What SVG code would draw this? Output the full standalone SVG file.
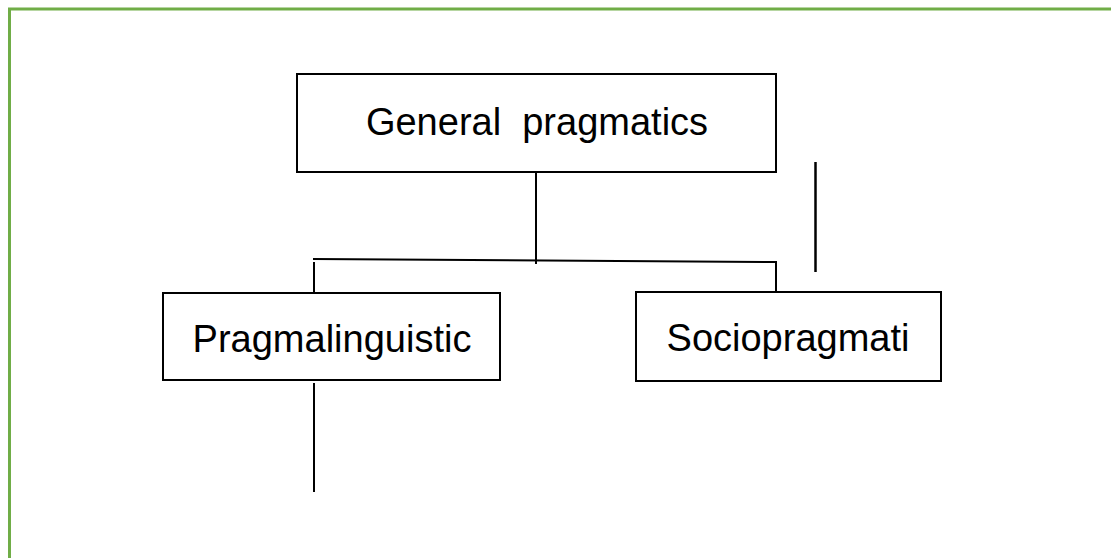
<svg xmlns="http://www.w3.org/2000/svg" width="1111" height="558" viewBox="0 0 1111 558">
<style>
.box{fill:#fff;stroke:#000;stroke-width:2}
.lbl{font-family:"Liberation Sans",Arial,sans-serif;font-size:38px;fill:#000;text-anchor:middle}
.conn{stroke:#000;stroke-width:2;fill:none}
</style>
<rect width="1111" height="558" fill="#fff"/>
<path d="M9.5 570 V9 H1111" fill="none" stroke="#70AD47" stroke-width="3"/>
<g id="connectors">
<line class="conn" x1="536" y1="172" x2="536" y2="264"/>
<polyline class="conn" points="313,259 776,262 776,292"/>
<line class="conn" x1="314" y1="262" x2="314" y2="293"/>
<line class="conn" x1="314" y1="383" x2="314" y2="492"/>
<line class="conn" x1="815.5" y1="162" x2="815.5" y2="272" style="stroke-width:2.5"/>
</g>
<g id="general">
<rect class="box" x="297" y="74" width="479" height="98"/>
<text class="lbl" x="537" y="135" xml:space="preserve">General  pragmatics</text>
</g>
<g id="pragmalinguistic">
<rect class="box" x="163" y="293" width="337" height="87"/>
<text class="lbl" x="332" y="352">Pragmalinguistic</text>
</g>
<g id="sociopragmatic">
<rect class="box" x="636" y="292" width="305" height="89"/>
<text class="lbl" x="788" y="351">Sociopragmati</text>
</g>
</svg>
